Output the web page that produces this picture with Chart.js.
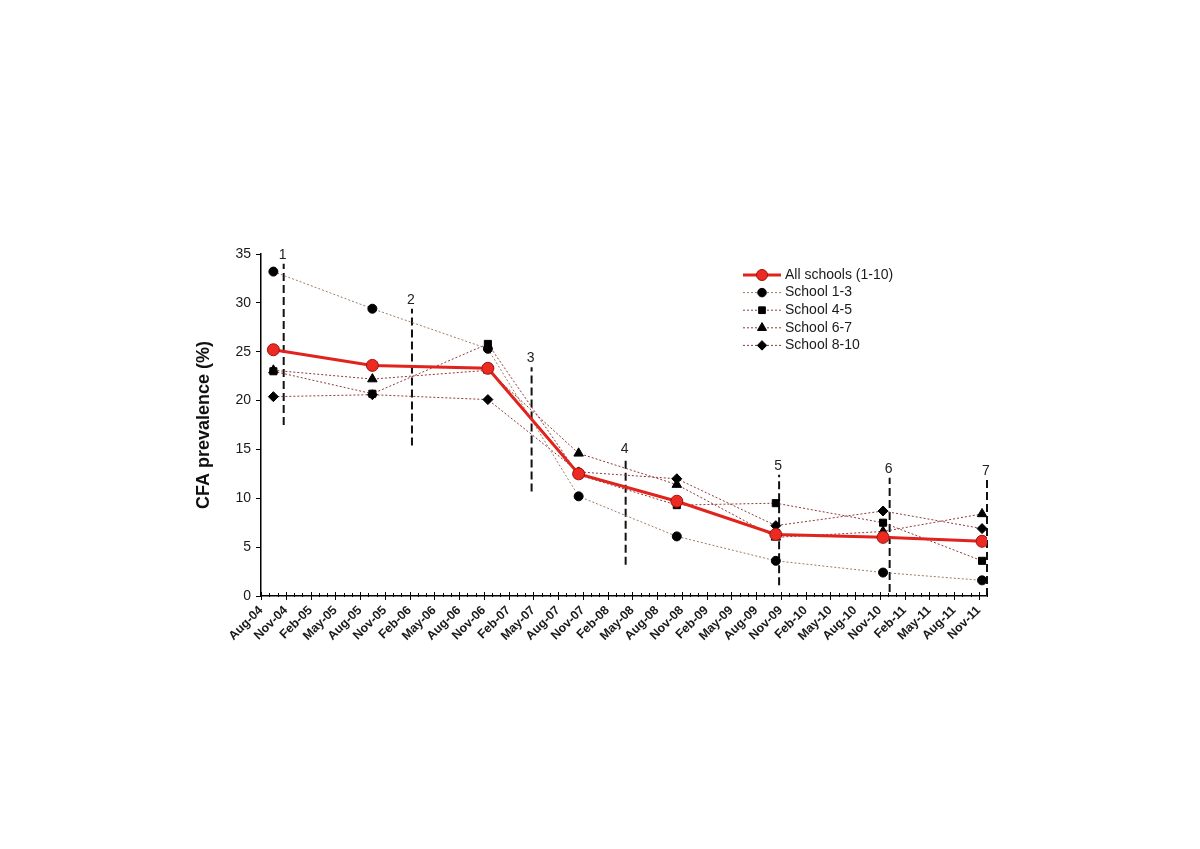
<!DOCTYPE html>
<html>
<head>
<meta charset="utf-8">
<script src="https://cdn.jsdelivr.net/npm/chart.js@4.4.1/dist/chart.umd.min.js"></script>
<style>
  html, body { margin: 0; padding: 0; background: #fff; }
</style>
</head>
<body>
<canvas id="cfaChart" width="1200" height="849"></canvas>
<script>
// quarter labels on the date axis (month 0 = Aug-04)
const xTickLabels = ['Aug-04','Nov-04','Feb-05','May-05','Aug-05','Nov-05','Feb-06','May-06','Aug-06','Nov-06',
  'Feb-07','May-07','Aug-07','Nov-07','Feb-08','May-08','Aug-08','Nov-08','Feb-09','May-09','Aug-09','Nov-09',
  'Feb-10','May-10','Aug-10','Nov-10','Feb-11','May-11','Aug-11','Nov-11'];

// survey dates, in months after Aug-04
const surveyMonth = [1.5, 13.5, 27.5, 38.5, 50.4, 62.4, 75.4, 87.4];

const allSchools = [25.2, 23.6, 23.3, 12.5, 9.7, 6.3, 6.0, 5.6];
const school13   = [33.2, 29.4, 25.3, 10.2, 6.1, 3.6, 2.4, 1.6];
const school45   = [23.0, 20.7, 25.8, 12.4, 9.3, 9.5, 7.5, 3.6];
const school67   = [23.1, 22.2, 23.1, 14.6, 11.4, 6.0, 6.6, 8.4];
const school810  = [20.4, 20.6, 20.1, 12.7, 12.0, 7.2, 8.7, 6.9];

// treatment rounds (dashed markers)
const mdaRound  = ['1', '2', '3', '4', '5', '6', '7'];
const mdaMonth  = [2.75, 18.3, 32.8, 44.2, 62.8, 76.2, 88];
const mdaTop    = [34.0, 29.4, 23.4, 14.1, 12.4, 12.1, 11.9];
const mdaBottom = [17.5, 15.4, 10.7, 3.2, 1.1, 0.4, 0];

const FONT = "'Liberation Sans', Arial, sans-serif";

function pts(vals) {
  return surveyMonth.map((m, i) => ({ x: m, y: vals[i] }));
}

function schoolSet(label, vals, style, radius, lineColor) {
  return {
    label: label,
    data: pts(vals),
    borderColor: lineColor,
    borderWidth: 1,
    borderDash: [2, 2],
    pointStyle: style,
    pointRadius: radius,
    pointBackgroundColor: '#000',
    pointBorderColor: '#000',
    pointBorderWidth: 1,
    legendLine: true
  };
}

const datasets = [
  {
    label: 'All schools (1-10)',
    data: pts(allSchools),
    borderColor: '#e0231c',
    borderWidth: 3,
    pointStyle: 'circle',
    pointRadius: 6,
    pointBackgroundColor: '#ec2a22',
    pointBorderColor: '#9c1212',
    pointBorderWidth: 1,
    legendLine: true
  },
  schoolSet('School 1-3', school13, 'circle', 4.5, '#a07a62'),
  schoolSet('School 4-5', school45, 'rect', 5, '#8e3a34'),
  schoolSet('School 6-7', school67, 'triangle', 5.5, '#8e3a34'),
  schoolSet('School 8-10', school810, 'rectRot', 5, '#8e3a34')
];

mdaRound.forEach((r, i) => {
  datasets.push({
    label: 'Round ' + r,
    data: [{ x: mdaMonth[i], y: mdaBottom[i] }, { x: mdaMonth[i], y: mdaTop[i] }],
    borderColor: '#111',
    borderWidth: 2,
    borderDash: [8, 4],
    pointRadius: 0,
    clip: false,
    roundLabel: r
  });
});

const extras = {
  id: 'extras',
  afterDraw(chart) {
    const ctx = chart.ctx;
    const xs = chart.scales.x;
    const ys = chart.scales.y;
    const y0 = ys.getPixelForValue(0);

    // monthly minor ticks and quarterly major ticks
    ctx.save();
    ctx.strokeStyle = '#000';
    ctx.lineWidth = 1;
    for (let m = 0; m <= 88; m++) {
      const px = Math.round(xs.getPixelForValue(m)) + 0.5;
      ctx.beginPath();
      if (m % 3 === 0) {
        ctx.moveTo(px, y0 - 4);
        ctx.lineTo(px, y0 + 4);
      } else {
        ctx.moveTo(px, y0 - 3);
        ctx.lineTo(px, y0 + 1);
      }
      ctx.stroke();
    }

    // round numbers above dashed lines
    ctx.fillStyle = '#222';
    ctx.font = '14px ' + FONT;
    ctx.textAlign = 'center';
    ctx.textBaseline = 'bottom';
    chart.data.datasets.forEach(ds => {
      if (!ds.roundLabel) return;
      const px = xs.getPixelForValue(ds.data[0].x);
      const py = ys.getPixelForValue(ds.data[1].y);
      ctx.fillText(ds.roundLabel, px - 1, py - 2);
    });

    // legend: line sample with marker
    const lx = 743, lw = 38, ty = 275, step = 17.6;
    ctx.font = '14px ' + FONT;
    ctx.textAlign = 'left';
    ctx.textBaseline = 'middle';
    chart.data.datasets.forEach((ds, i) => {
      if (!ds.legendLine) return;
      const yy = ty + i * step;
      ctx.save();
      ctx.strokeStyle = ds.borderColor;
      ctx.lineWidth = ds.borderWidth;
      ctx.setLineDash(ds.borderDash || []);
      ctx.beginPath();
      ctx.moveTo(lx, yy);
      ctx.lineTo(lx + lw, yy);
      ctx.stroke();
      ctx.setLineDash([]);
      ctx.fillStyle = ds.pointBackgroundColor;
      ctx.strokeStyle = ds.pointBorderColor;
      ctx.lineWidth = ds.pointBorderWidth;
      Chart.helpers.drawPoint(ctx, {
        pointStyle: ds.pointStyle,
        radius: i === 0 ? 5.5 : ds.pointRadius * 0.95,
        borderWidth: ds.pointBorderWidth,
        rotation: 0
      }, lx + lw / 2, yy);
      ctx.restore();
      ctx.fillStyle = '#1a1a1a';
      ctx.fillText(ds.label, lx + lw + 4, yy);
    });
    ctx.restore();
  }
};

new Chart(document.getElementById('cfaChart'), {
  type: 'line',
  data: { datasets: datasets },
  options: {
    responsive: false,
    animation: false,
    layout: { padding: { left: 189, top: 254, right: 213, bottom: 849 - 596 - 60 } },
    plugins: {
      legend: { display: false },
      tooltip: { enabled: false }
    },
    scales: {
      x: {
        type: 'linear',
        min: 0,
        max: 88,
        afterBuildTicks: axis => {
          axis.ticks = xTickLabels.map((t, i) => ({ value: i * 3 }));
        },
        afterFit: axis => { axis.height = 60; },
        border: { display: true, color: '#000', width: 1.5 },
        grid: { display: false, drawTicks: false },
        ticks: {
          autoSkip: false,
          maxRotation: 45,
          minRotation: 45,
          padding: 7,
          color: '#1a1a1a',
          font: { family: FONT, size: 12.5, weight: 'bold' },
          callback: v => xTickLabels[v / 3] || ''
        }
      },
      y: {
        min: 0,
        max: 35,
        afterFit: axis => { axis.width = 72; },
        border: { display: true, color: '#000', width: 1.5 },
        grid: { drawOnChartArea: false, drawTicks: true, tickLength: 5, tickColor: '#000', lineWidth: 1 },
        ticks: {
          stepSize: 5,
          padding: 5,
          color: '#1a1a1a',
          font: { family: FONT, size: 14 }
        },
        title: {
          display: true,
          text: 'CFA prevalence (%)',
          color: '#111',
          font: { family: FONT, size: 18, weight: 'bold' }
        }
      }
    }
  },
  plugins: [extras]
});
</script>
</body>
</html>
